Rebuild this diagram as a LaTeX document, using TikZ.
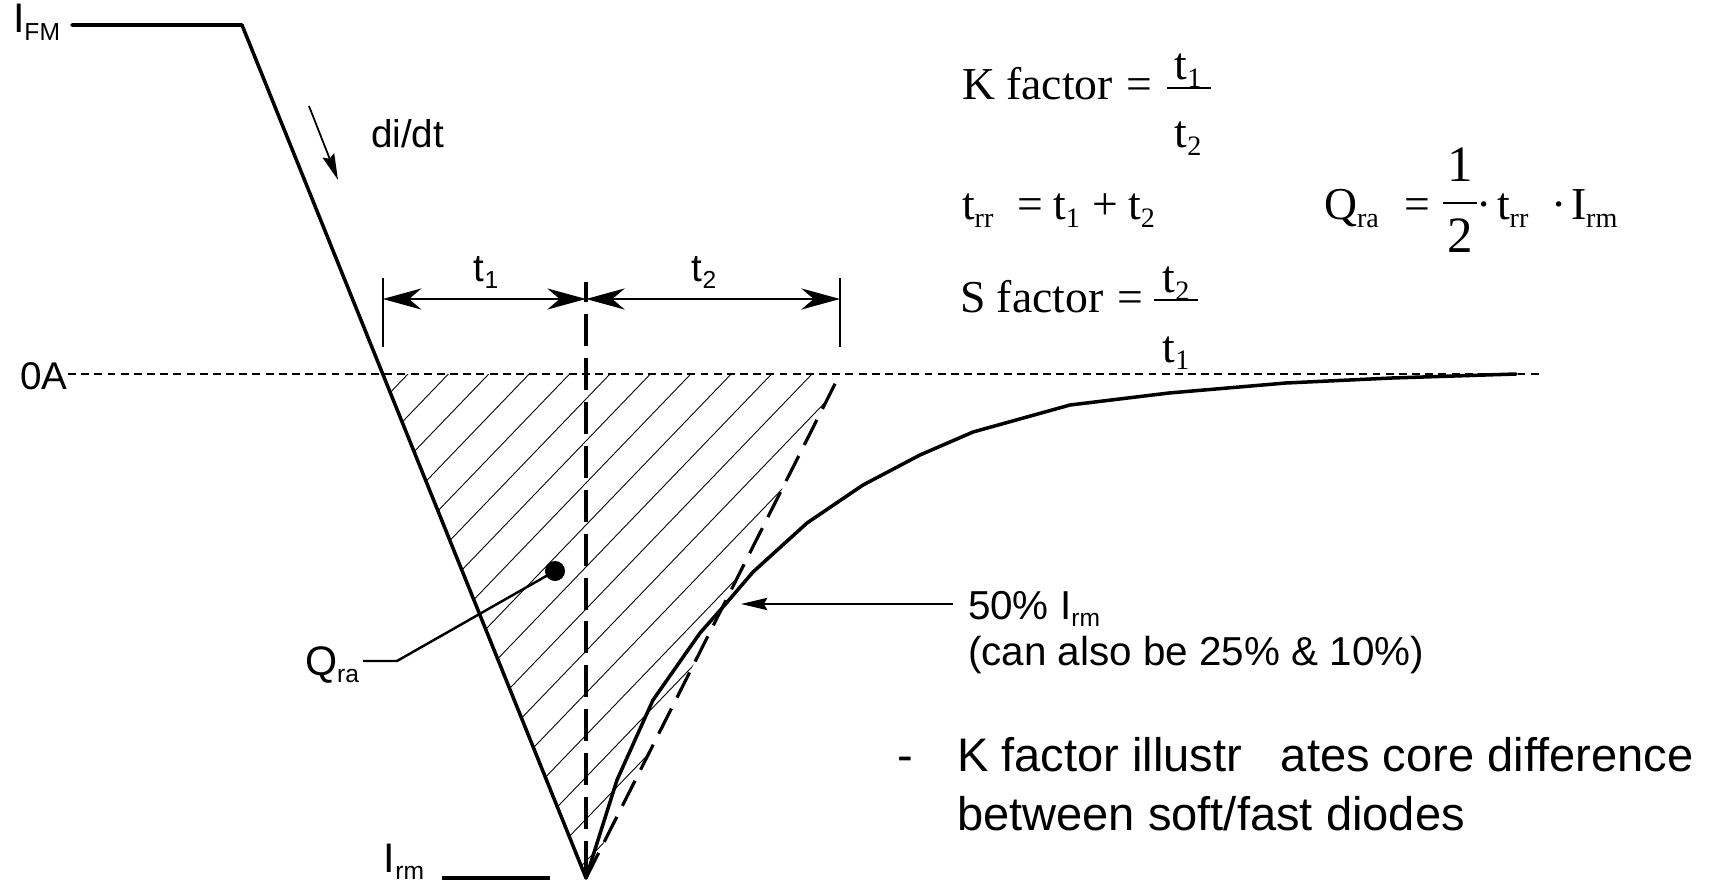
\documentclass[tikz,border=0pt]{standalone}
\usepackage{fontspec}
\setmainfont{Liberation Sans}
\newfontfamily\tnr{Liberation Serif}
\usetikzlibrary{arrows.meta}
\newcommand\lsub[1]{\raisebox{-4.5pt}{\fontsize{14}{16}\selectfont #1}}
\newcommand\fsub[1]{\raisebox{-4.5pt}{\fontsize{16}{18}\selectfont #1}}
\begin{document}
\begin{tikzpicture}[x=0.02cm,y=-0.02cm,
  lab/.style={font=\fontsize{22}{26}\selectfont, inner sep=0pt, outer sep=0pt},
  biglab/.style={font=\fontsize{23.5}{27}\selectfont, inner sep=0pt, outer sep=0pt},
  big/.style={font=\fontsize{26.8}{32}\selectfont, inner sep=0pt, outer sep=0pt},
  frm/.style={font=\tnr\fontsize{26}{30}\selectfont, inner sep=0pt, outer sep=0pt},
  wave/.style={line width=2pt, line join=round, line cap=round},
  zero/.style={line width=0.9pt, dash pattern=on 4.5pt off 3pt},
  hatchline/.style={line width=0.5pt},
  vdash/.style={line width=2.6pt, dash pattern=on 18.2pt off 6.8pt, dash phase=6.8pt},
  ddash/.style={line width=1.8pt, dash pattern=on 16pt off 7pt},
  dimbar/.style={line width=1.3pt},
  dimarrow/.style={line width=1.5pt, {Stealth[length=22pt,width=12pt,inset=7pt]}-{Stealth[length=22pt,width=12pt,inset=7pt]}},
  thinarrow/.style={line width=1pt, -{Stealth[length=15pt,width=7pt,inset=2pt]}},
  fbar/.style={line width=1.1pt},
  leader/.style={line width=1.4pt}]
\useasboundingbox (0,0) rectangle (1719,888);

% geometry points
\coordinate (fm0) at (72,25);
\coordinate (A) at (242,25);
\coordinate (P) at (586,878);
\coordinate (Z) at (382.7,374);
\coordinate (E) at (840,374);
\coordinate (zl) at (68,374);
\coordinate (zr) at (1540,374);
\coordinate (mt) at (586,282);
\coordinate (lb1) at (382.7,278);
\coordinate (lb2) at (382.7,347);
\coordinate (rb1) at (840,278);
\coordinate (rb2) at (840,347);
\coordinate (la) at (382.7,299);
\coordinate (ma) at (586,299);
\coordinate (rarr) at (840,299);

% hatching
\begin{scope}
  \clip (Z) -- (E) -- (P) -- cycle;
  \foreach \k in {-2,...,18} {
    \draw[hatchline] (408+\k*40.4,374) -- ++(-700,728);
  }
\end{scope}

% zero line
\draw[zero] (zl) -- (zr);

% main waveform
\draw[wave] (fm0) -- (A) -- (P);
\draw[wave] (P) -- (617,780) -- (653,700) -- (700,633) -- (723,607) -- (753,572)
  -- (807,523) -- (863,485) -- (920,455) -- (973,432) -- (1070,405)
  -- (1169,393) -- (1286,383) -- (1392,378) -- (1516,374);

% dashed lines
\draw[vdash] (mt) -- (P);
\draw[ddash] (P) -- (E);

% dimension bars and arrows
\draw[dimbar] (lb1) -- (lb2);
\draw[dimbar] (rb1) -- (rb2);
\draw[dimarrow] (la) -- (ma);
\draw[dimarrow] (ma) -- (rarr);
\node[lab, anchor=base] (t1) at (486,281) {t\lsub{1}};
\node[lab, anchor=base] (t2) at (704,281) {t\lsub{2}};

% labels
\node[biglab, anchor=base east] (ifm) at (60,33) {I\lsub{FM}};
\node[lab, anchor=base west] (didt) at (371,148) {di/dt};
\coordinate (da0) at (309,106);
\coordinate (da1) at (338,180);
\draw[thinarrow] (da0) -- (da1);
\node[lab, anchor=base west] (oa) at (20,389) {0A};

% I_rm
\node[biglab, anchor=base east] (irm) at (424,872) {I\lsub{rm}};
\coordinate (irm0) at (441.7,878);
\coordinate (irm1) at (550,878);
\draw[wave, line cap=butt] (irm0) -- (irm1);

% Q_ra
\node[circle, fill, inner sep=0pt, minimum size=11.4pt] (dot) at (555,571) {};
\node[biglab, anchor=base east] (qra) at (359,675) {Q\lsub{ra}};
\coordinate (qk) at (397,661);
\coordinate (qe) at (363,661);
\draw[leader] (dot.center) -- (qk) -- (qe);

% 50% arrow
\node[lab, font=\fontsize{23}{27}\selectfont, anchor=base west] (p50) at (968,619) {50\% I\lsub{rm}};
\node[lab, font=\fontsize{23}{27}\selectfont, anchor=base west] (can) at (968,665) {(can also be 25\% \& 10\%)};
\coordinate (a50s) at (953,604);
\coordinate (a50e) at (741,604);
\draw[thinarrow] (a50s) -- (a50e);

% bullet text
\node[big, anchor=base west] (dash) at (897,771) {-};
\node[big, anchor=base west] (kl1) at (957,771) {K factor illustr\hspace{22pt}ates core difference};
\node[big, anchor=base west] (kl2) at (957,830) {between soft/fast diodes};

% formulas
\node[frm, anchor=base west] (kf) at (962,100) {K factor\hspace{8pt}=};
\node[frm, anchor=base] (kfn) at (1188,80) {t\fsub{1}};
\node[frm, anchor=base] (kfd) at (1188,148) {t\fsub{2}};
\coordinate (kb0) at (1167,88);
\coordinate (kb1) at (1211,88);
\draw[fbar] (kb0) -- (kb1);

\node[frm, anchor=base west] (trr) at (962,220) {t\fsub{rr}\hspace{13.7pt}=\hspace{5.7pt}t\fsub{1}\hspace{7pt}+\hspace{5.7pt}t\fsub{2}};

\node[frm, anchor=base west] (sf) at (960,313) {S factor\hspace{8pt}=};
\node[frm, anchor=base] (sfn) at (1176,293) {t\fsub{2}};
\node[frm, anchor=base] (sfd) at (1176,362) {t\fsub{1}};
\coordinate (sb0) at (1154,300);
\coordinate (sb1) at (1198,300);
\draw[fbar] (sb0) -- (sb1);

\node[frm, anchor=base west] (qf) at (1324,220) {Q\fsub{ra}};
\node[frm, anchor=base west] (qeq) at (1404,220) {=};
\node[frm, font=\tnr\fontsize{29}{33}\selectfont, anchor=base] (qn) at (1460,182) {1};
\node[frm, font=\tnr\fontsize{29}{33}\selectfont, anchor=base] (qd) at (1460,253) {2};
\coordinate (qb0) at (1443,203);
\coordinate (qb1) at (1477,203);
\draw[fbar] (qb0) -- (qb1);
\node[frm, anchor=base] (qd1) at (1484,220) {\textperiodcentered};
\node[frm, anchor=base west] (qt) at (1497,220) {t\fsub{rr}};
\node[frm, anchor=base] (qd2) at (1559,220) {\textperiodcentered};
\node[frm, anchor=base west] (qi) at (1571,220) {I\fsub{rm}};
\end{tikzpicture}
\end{document}
